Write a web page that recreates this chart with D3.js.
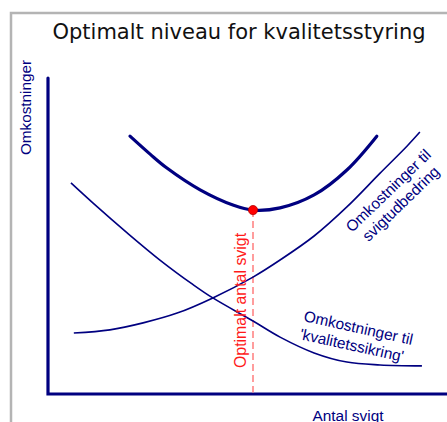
<!DOCTYPE html>
<html>
<head>
<meta charset="utf-8">
<script src="https://cdn.jsdelivr.net/npm/d3@7"></script>
<style>
  html, body { margin: 0; padding: 0; background: #fff; }
  svg { display: block; }
</style>
</head>
<body>
<div id="chart"></div>
<script>
// ---- Data (x: antal svigt, y: omkostninger, arbitrary units 0..100) ----
const titleText = "Optimalt niveau for kvalitetsstyring";
const yLabel = "Omkostninger";
const xLabel = "Antal svigt";
const optimumLabel = "Optimalt antal svigt";
const failureCostLabel = ["Omkostninger til", "svigtudbedring"];
const qualityCostLabel = ["Omkostninger til", "'kvalitetssikring'"];

// Omkostninger til 'kvalitetssikring' (decreasing)
const qualityX = [5.6, 11.0, 19.3, 27.3, 35.4, 40.2, 50.0, 56.6, 64.9, 72.9, 81.0, 91.2];
const qualityY = [66.8, 60.4, 51.0, 42.4, 34.6, 30.4, 23.1, 18.0, 13.0, 10.1, 9.2, 8.9];

// Omkostninger til svigtudbedring (increasing)
const failureX = [6.3, 15.1, 23.2, 31.5, 40.2, 50.0, 56.6, 64.9, 72.9, 81.0, 87.6, 90.7];
const failureY = [19.3, 20.3, 22.5, 25.6, 30.4, 37.0, 42.4, 50.0, 59.2, 69.9, 78.5, 82.9];

// Total omkostninger (thick U-curve)
const totalX = [20.0, 24.9, 29.0, 37.1, 45.1, 50.0, 56.6, 64.9, 72.9, 80.2];
const totalY = [81.6, 75.9, 71.5, 64.6, 59.8, 58.2, 58.9, 63.0, 70.9, 81.6];

// Optimum point
const optimumX = [50.0];
const optimumY = [58.2];

// ---- Layout ----
const W = 447, H = 422;
const navy = "#000080";

const svg = d3.select("#chart").append("svg")
  .attr("width", W).attr("height", H);

// Frame
svg.append("rect")
  .attr("x", 11).attr("y", 13)
  .attr("width", 470).attr("height", 440)
  .attr("fill", "none")
  .attr("stroke", "#b4b4b4")
  .attr("stroke-width", 2.5);

const x = d3.scaleLinear().domain([0, 100]).range([48, 458]);
const y = d3.scaleLinear().domain([0, 100]).range([394, 78]);

// Title
svg.append("text")
  .attr("x", 239).attr("y", 39)
  .attr("text-anchor", "middle")
  .attr("font-family", "DejaVu Sans, Verdana, sans-serif")
  .attr("font-size", 21)
  .attr("fill", "#111")
  .text(titleText);

// Axes (L-shape)
const axisPath = d3.path();
axisPath.moveTo(x(0), y(100));
axisPath.lineTo(x(0), y(0));
axisPath.lineTo(x(100), y(0));
svg.append("path")
  .attr("d", axisPath.toString())
  .attr("fill", "none")
  .attr("stroke", navy)
  .attr("stroke-width", 3.2)
  .attr("stroke-linecap", "round")
  .attr("stroke-linejoin", "miter");

const lineGen = d3.line()
  .x(d => x(d[0]))
  .y(d => y(d[1]))
  .curve(d3.curveCatmullRom.alpha(0.5));

const zip = (a, b) => a.map((v, i) => [v, b[i]]);

// Dashed optimum line
svg.append("line")
  .attr("x1", x(optimumX[0])).attr("x2", x(optimumX[0]))
  .attr("y1", y(optimumY[0])).attr("y2", y(0) - 1.5)
  .attr("stroke", "#ff8585")
  .attr("stroke-width", 1.6)
  .attr("stroke-dasharray", "7,4");

// Quality curve
svg.append("path")
  .attr("d", lineGen(zip(qualityX, qualityY)))
  .attr("fill", "none").attr("stroke", navy).attr("stroke-width", 1.6);

// Failure curve
svg.append("path")
  .attr("d", lineGen(zip(failureX, failureY)))
  .attr("fill", "none").attr("stroke", navy).attr("stroke-width", 1.6);

// Total curve
svg.append("path")
  .attr("d", lineGen(zip(totalX, totalY)))
  .attr("fill", "none").attr("stroke", navy).attr("stroke-width", 3.2)
  .attr("stroke-linecap", "round");

// Optimum dot
svg.append("circle")
  .attr("cx", x(optimumX[0])).attr("cy", y(optimumY[0]))
  .attr("r", 4.6)
  .attr("fill", "#ff0000")
  .attr("stroke", "#b00000")
  .attr("stroke-width", 0.8);

const labelFont = "Liberation Sans, Arial, sans-serif";

// Y label
svg.append("text")
  .attr("transform", "translate(31,107.5) rotate(-90)")
  .attr("text-anchor", "middle")
  .attr("font-family", labelFont)
  .attr("font-size", 15.3)
  .attr("fill", navy)
  .text(yLabel);

// X label
svg.append("text")
  .attr("x", 348).attr("y", 421)
  .attr("text-anchor", "middle")
  .attr("font-family", labelFont)
  .attr("font-size", 15.4)
  .attr("fill", navy)
  .text(xLabel);

// Optimum label
svg.append("text")
  .attr("transform", "translate(246,300.5) rotate(-90)")
  .attr("text-anchor", "middle")
  .attr("font-family", labelFont)
  .attr("font-size", 15.9)
  .attr("fill", "#ff1a1a")
  .text(optimumLabel);

// Failure cost label
[[392, 194.5], [404.5, 207.5]].forEach((p, i) => {
  svg.append("text")
    .attr("transform", `translate(${p[0]},${p[1]}) rotate(-44)`)
    .attr("text-anchor", "middle")
    .attr("font-family", labelFont)
    .attr("font-size", 15.4)
    .attr("fill", navy)
    .text(failureCostLabel[i]);
});

// Quality cost label
[[303, 321], [299, 339]].forEach((p, i) => {
  svg.append("text")
    .attr("transform", `translate(${p[0]},${p[1]}) rotate(12.4)`)
    .attr("text-anchor", "start")
    .attr("font-family", labelFont)
    .attr("font-size", 15.4)
    .attr("fill", navy)
    .text(qualityCostLabel[i]);
});
</script>
</body>
</html>
